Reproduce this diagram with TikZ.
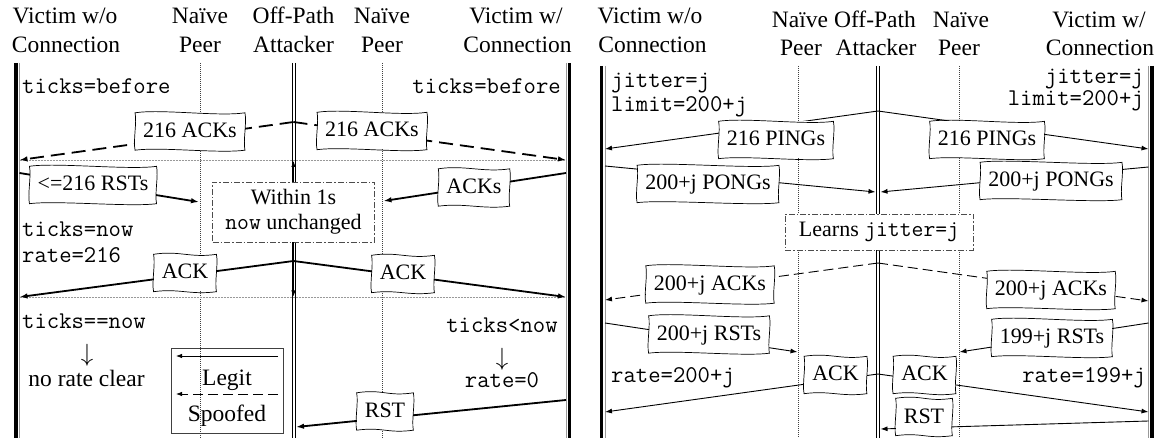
\documentclass[tikz,border=0pt]{standalone}
\usepackage{fontspec}
\setmainfont{Liberation Serif}
\usetikzlibrary{arrows.meta}
\newcommand\wavybox[1]{%
  \draw[line width=0.7pt]
   (#1.north west) .. controls +(26,-4) and +(-26,4) .. (#1.north east)
   .. controls +(2,10) and +(-2,-10) .. (#1.south east)
   .. controls +(-26,3.5) and +(26,-3.5) .. (#1.south west)
   .. controls +(-2,-10) and +(2,10) .. cycle;}
\begin{document}
\begin{tikzpicture}[x=1pt,y=-1pt,
 hdr/.style={font=\fontsize{23.5}{28}\selectfont, inner sep=0pt, anchor=base},
 mono/.style={font=\fontsize{24}{27}\selectfont\ttfamily, inner sep=0pt},
 serif/.style={font=\fontsize{23.5}{27}\selectfont, inner sep=0pt},
 glyph/.style={font=\fontsize{25}{27}\selectfont, inner sep=0pt},
 lbl/.style={fill=white, font=\fontsize{22}{26}\selectfont,
   text height=16pt, text depth=4pt, inner xsep=8pt, inner ysep=8.5pt},
 note/.style={draw=black!70, fill=white, line width=0.7pt,
   dash pattern=on 6pt off 2pt on 1.5pt off 2pt,
   font=\fontsize{22}{25}\selectfont, align=center, inner sep=0pt},
 victim/.style={line width=3.5pt},
 vgray/.style={draw=black!40, line width=0.7pt},
 attk/.style={line width=1pt},
 peer/.style={draw=black!75, line width=0.6pt, dash pattern=on 1pt off 1pt},
 sepline/.style={draw=black!40, line width=0.6pt, dash pattern=on 2pt off 1pt},
 heavy/.style={-{Latex[length=8pt,width=5.5pt]}, line width=1.8pt},
 light/.style={-{Latex[length=7pt,width=5pt]}, line width=0.9pt},
 thinarrow/.style={-{Latex[length=6pt,width=4.5pt]}, line width=0.8pt},
 spoof/.style={dash pattern=on 14pt off 7pt},
 spoofl/.style={dash pattern=on 10pt off 5pt},
]
\useasboundingbox (0,0) rectangle (1168,438);

% ---------------- headers ----------------
\node[hdr] (h1a) at (65,24) {Victim w/o};
\node[hdr] (h1b) at (66,53) {Connection};
\node[hdr] (h2a) at (200,24) {Naïve};
\node[hdr] (h2b) at (200,53) {Peer};
\node[hdr] (h3a) at (293.5,24) {Off-Path};
\node[hdr] (h3b) at (293.5,53) {Attacker};
\node[hdr] (h4a) at (382,24) {Naïve};
\node[hdr] (h4b) at (382,53) {Peer};
\node[hdr] (h5a) at (516,24) {Victim w/};
\node[hdr] (h5b) at (517.5,53) {Connection};

\node[hdr] (g1a) at (650,23.5) {Victim w/o};
\node[hdr] (g1b) at (652.5,53) {Connection};
\node[hdr] (g2a) at (800,27.5) {Naïve};
\node[hdr] (g2b) at (801,56) {Peer};
\node[hdr] (g3a) at (875,27.5) {Off-Path};
\node[hdr] (g3b) at (876,56) {Attacker};
\node[hdr] (g4a) at (961,27.5) {Naïve};
\node[hdr] (g4b) at (959,56) {Peer};
\node[hdr] (g5a) at (1099,27.5) {Victim w/};
\node[hdr] (g5b) at (1100,56) {Connection};

% ---------------- lifelines ----------------
\draw[victim] (16,63) -- (16,440);
\draw[vgray] (19.5,63) -- (19.5,440);
\draw[peer] (200,63) -- (200,440);
\draw[attk] (292,63) -- (292,440);
\draw[attk] (295,63) -- (295,440);
\draw[peer] (382,63) -- (382,440);
\draw[vgray] (566,63) -- (566,440);
\draw[victim] (569.5,63) -- (569.5,440);

\draw[victim] (601.5,66) -- (601.5,440);
\draw[vgray] (605,66) -- (605,440);
\draw[peer] (798,66) -- (798,440);
\draw[attk] (876.5,66) -- (876.5,440);
\draw[attk] (879.5,66) -- (879.5,440);
\draw[peer] (959,66) -- (959,440);
\draw[vgray] (1148.5,66) -- (1148.5,440);
\draw[victim] (1152,66) -- (1152,440);

% ---------------- left panel coordinates ----------------
\coordinate (a0) at (293.5,122);
\coordinate (a1) at (19.5,160);
\coordinate (a2) at (566,160);
\coordinate (r1s) at (19.5,173);
\coordinate (r1e) at (199,202);
\coordinate (r2s) at (566,173);
\coordinate (r2e) at (383.5,201);
\coordinate (k0) at (293.5,261);
\coordinate (k1) at (19.5,297);
\coordinate (k2) at (566,297);
\coordinate (wt) at (293.5,161);
\coordinate (wb) at (293.5,296.5);
\coordinate (s1s) at (566,400);
\coordinate (s1e) at (296,427);

% separators
\draw[sepline] (a1) -- (a2);
\draw[sepline] (k1) -- (k2);

% messages
\draw[heavy, spoof] (a0) -- (a1);
\draw[heavy, spoof] (a0) -- (a2);
\draw[heavy] (r1s) -- (r1e);
\draw[heavy] (r2s) -- (r2e);
\draw[heavy] (k0) -- (k1);
\draw[heavy] (k0) -- (k2);
\draw[heavy] (s1s) -- (s1e);

% within box
\node[note, minimum width=162pt, minimum height=60pt] (W) at (293.5,212)
  {Within 1s\\{\fontsize{23}{25}\selectfont\ttfamily now} unchanged};
\draw[thinarrow] (W.north) -- (wt);
\draw[thinarrow] (W.south) -- (wb);

% labels
\node[lbl] (l1) at (190,131.5) {216 ACKs}; \wavybox{l1}
\node[lbl] (l2) at (372,131) {216 ACKs}; \wavybox{l2}
\node[lbl] (l3) at (93,185) {<=216 RSTs}; \wavybox{l3}
\node[lbl] (l4) at (474,187.5) {ACKs}; \wavybox{l4}
\node[lbl] (l5) at (185,273) {ACK}; \wavybox{l5}
\node[lbl] (l6) at (403,274) {ACK}; \wavybox{l6}
\node[lbl] (l7) at (385,411.5) {RST}; \wavybox{l7}

% state texts
\node[mono, anchor=base west] (n1) at (22,94) {ticks=before};
\node[mono, anchor=base east] (n2) at (561,94) {ticks=before};
\node[mono, anchor=base west] (n3) at (22,237) {ticks=now};
\node[mono, anchor=base west] (n4) at (22,262.5) {rate=216};
\node[mono, anchor=base west] (n5) at (22,329) {ticks==now};
\node[glyph] (n6) at (87,355.5) {$\downarrow$};
\node[serif, anchor=base] (n7) at (86.5,386.5) {no rate clear};
\node[mono, anchor=base] (n8) at (502,333) {ticks<now};
\node[glyph] (n9) at (502,359.5) {$\downarrow$};
\node[mono, anchor=base] (n10) at (502,388) {rate=0};

% legend
\node[draw=black!75, line width=0.8pt, minimum width=112pt, minimum height=85pt, inner sep=0pt] (leg) at (227,390.5) {};
\coordinate (lg1s) at (278,356);
\coordinate (lg1e) at (176,356);
\coordinate (lg2s) at (278,394);
\coordinate (lg2e) at (176,394);
\draw[thinarrow] (lg1s) -- (lg1e);
\draw[thinarrow, spoofl] (lg2s) -- (lg2e);
\node[serif, anchor=base] (lgt1) at (227,385) {Legit};
\node[serif, anchor=base] (lgt2) at (227,421) {Spoofed};

% ---------------- right panel coordinates ----------------
\coordinate (p0) at (878,111);
\coordinate (p1) at (605,149);
\coordinate (p2) at (1148.5,149);
\coordinate (q1s) at (605,166);
\coordinate (q1e) at (875.5,192);
\coordinate (q2s) at (1148.5,167);
\coordinate (q2e) at (880.5,192);
\coordinate (d0) at (878,263);
\coordinate (d1) at (605,300);
\coordinate (d2) at (1148.5,301);
\coordinate (t1s) at (605,323);
\coordinate (t1e) at (797.5,352);
\coordinate (t2s) at (1148.5,323);
\coordinate (t2e) at (959.5,352);
\coordinate (c0) at (878,374);
\coordinate (c1) at (605,412);
\coordinate (c2) at (1148.5,412);
\coordinate (u1s) at (1148.5,421);
\coordinate (u1e) at (880.5,429);

\draw[light] (p0) -- (p1);
\draw[light] (p0) -- (p2);
\draw[light] (q1s) -- (q1e);
\draw[light] (q2s) -- (q2e);
\draw[light, spoofl] (d0) -- (d1);
\draw[light, spoofl] (d0) -- (d2);
\draw[light] (t1s) -- (t1e);
\draw[light] (t2s) -- (t2e);
\draw[light] (c0) -- (c1);
\draw[light] (c0) -- (c2);
\draw[light] (u1s) -- (u1e);

\node[note, minimum width=188pt, minimum height=36pt] (L) at (879,232)
  {Learns {\fontsize{23}{25}\selectfont\ttfamily jitter=j}};

\node[lbl] (m1) at (776,140) {216 PINGs}; \wavybox{m1}
\node[lbl] (m2) at (987,140) {216 PINGs}; \wavybox{m2}
\node[lbl] (m3) at (708,184) {200+j PONGs}; \wavybox{m3}
\node[lbl] (m4) at (1051,181) {200+j PONGs}; \wavybox{m4}
\node[lbl] (m5) at (710,284.5) {200+j ACKs}; \wavybox{m5}
\node[lbl] (m6) at (1051,290) {200+j ACKs}; \wavybox{m6}
\node[lbl] (m7) at (709,334.5) {200+j RSTs}; \wavybox{m7}
\node[lbl] (m8) at (1052,338) {199+j RSTs}; \wavybox{m8}
\node[lbl] (m9) at (835.5,375) {ACK}; \wavybox{m9}
\node[lbl] (m10) at (924.5,375) {ACK}; \wavybox{m10}
\node[lbl] (m11) at (924,417) {RST}; \wavybox{m11}

\node[mono, anchor=base west] (o1) at (611,88) {jitter=j};
\node[mono, anchor=base west] (o2) at (611,111.5) {limit=200+j};
\node[mono, anchor=base east] (o3) at (1144,83.5) {jitter=j};
\node[mono, anchor=base east] (o4) at (1144,106) {limit=200+j};
\node[mono, anchor=base west] (o5) at (611,383) {rate=200+j};
\node[mono, anchor=base east] (o6) at (1146,383) {rate=199+j};
\end{tikzpicture}
\end{document}
